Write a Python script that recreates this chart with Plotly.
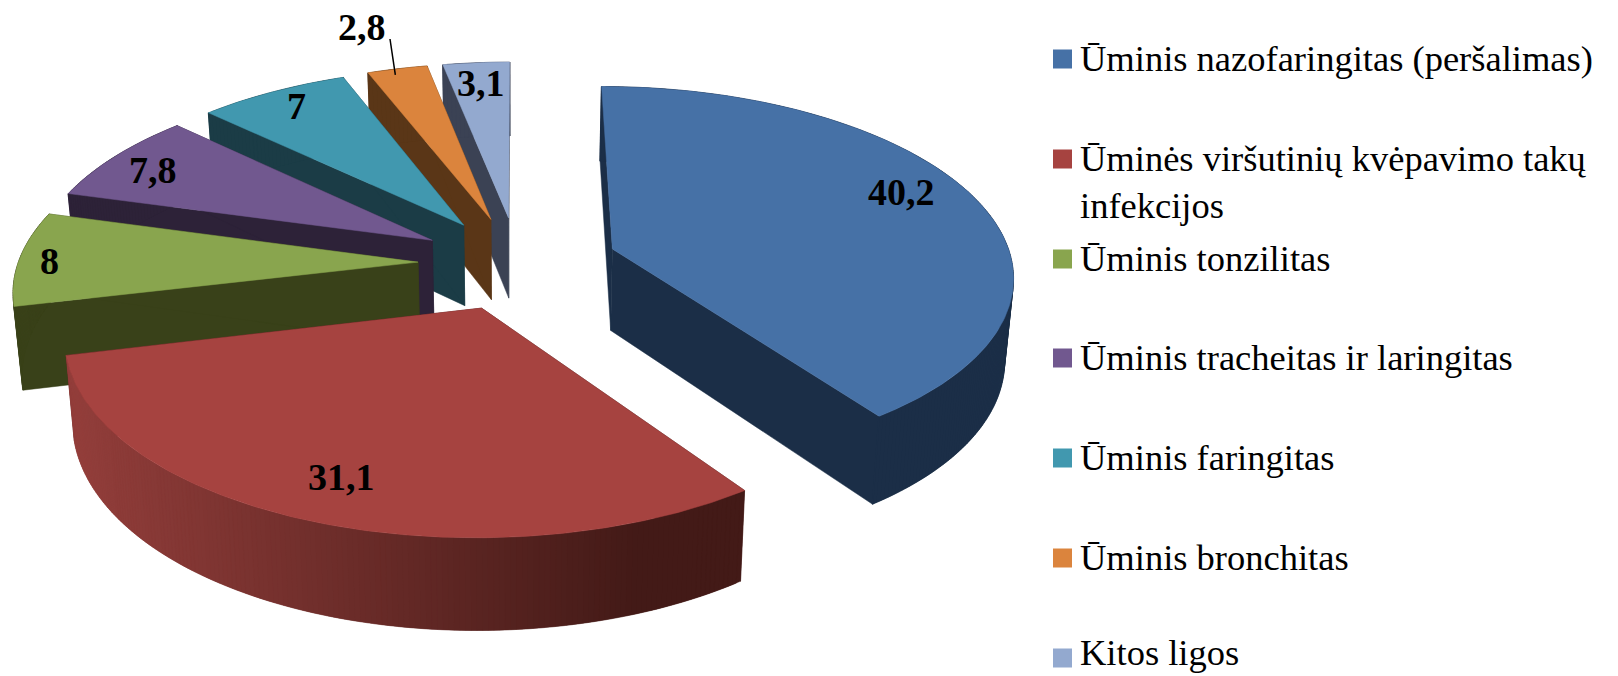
import math
import plotly.graph_objects as go

categories = ["Ūminis nazofaringitas (peršalimas)", "Ūminės viršutinių kvėpavimo takų<br>infekcijos",
              "Ūminis tonzilitas", "Ūminis tracheitas ir laringitas", "Ūminis faringitas",
              "Ūminis bronchitas", "Kitos ligos"]
values = [40.2, 31.1, 8, 7.8, 7, 2.8, 3.1]
value_labels = ["40,2", "31,1", "8", "7,8", "7", "2,8", "3,1"]

top_colors = ["#4671A6", "#A64340", "#89A54E", "#71588F", "#4198AF", "#DB843D", "#93A9CF"]
side_colors = ["#1B2E47", "#431B18", "#394119", "#2D2238", "#1B3C46", "#5A3617", "#3B4254"]
paint_order = [6, 5, 4, 3, 2, 1, 0]

# projection parameters of the tilted pie
CX, CY, RX, RY, PERSP, HEIGHT, SHRINK, EXPLODE = 518, 263, 400, 187, 0.13, 82, 0.982, 0.25
SERIF = "Liberation Serif"
LABEL_XY = [(901, 192), (341, 477), (49, 261), (153, 170), (296, 106), (362, 27), (481, 83)]
LEGEND_Y = [59, 159, 259, 358, 458, 558, 658]


def project(gx, gy, bottom=False):
    s = 1 / (1 - PERSP * gy)
    x = RX * gx * s
    y = CY + RY * gy * s
    if bottom:
        return CX + x * SHRINK, y + HEIGHT * s ** 0.7
    return CX + x, y


def hex_mix(c1, c2, t):
    a = [int(c1[i:i + 2], 16) for i in (1, 3, 5)]
    b = [int(c2[i:i + 2], 16) for i in (1, 3, 5)]
    return "#%02x%02x%02x" % tuple(round(p + (q - p) * t) for p, q in zip(a, b))


fig = go.Figure()


def poly(points, color, width=0.5):
    xs = [p[0] for p in points] + [points[0][0]]
    ys = [p[1] for p in points] + [points[0][1]]
    fig.add_trace(go.Scatter(x=xs, y=ys, mode="lines", fill="toself", fillcolor=color,
                             line=dict(color=color, width=width), hoverinfo="skip", showlegend=False))


total = sum(values)
bounds = [0.0]
for v in values:
    bounds.append(bounds[-1] + v / total * 2 * math.pi)

for i in paint_order:
    t0, t1 = bounds[i], bounds[i + 1]
    mid = (t0 + t1) / 2
    ox, oy = EXPLODE * math.sin(mid), -EXPLODE * math.cos(mid)
    rim = lambda t: (ox + math.sin(t), oy - math.cos(t))
    n = max(6, int((t1 - t0) / 0.012))
    angles = [t0 + (t1 - t0) * k / n for k in range(n + 1)]
    # cut walls
    for t in (t0, t1):
        g = rim(t)
        poly([project(ox, oy), project(*g), project(*g, True), project(ox, oy, True)], side_colors[i])
    # outer wall, one band after another, each overlapping the next
    for k in range(n):
        a, b = angles[k], angles[min(n, k + 2)]
        ga, gb = rim(a), rim(b)
        if i == 1:
            xm = project(*rim(angles[k]))[0]
            col = hex_mix("#933E3B", "#431A17", min(1.0, max(0.0, (xm - 70) / 570)))
        else:
            col = side_colors[i]
        poly([project(*ga), project(*gb), project(*gb, True), project(*ga, True)], col, 0.3)
    if i != 1:
        for t in (t0, t1):
            g = rim(t)
            p, q = project(*g), project(*g, True)
            fig.add_trace(go.Scatter(x=[p[0], q[0]], y=[p[1], q[1]], mode="lines",
                                     line=dict(color=side_colors[i], width=1.5),
                                     hoverinfo="skip", showlegend=False))
    # top surface
    poly([project(ox, oy)] + [project(*rim(t)) for t in angles], top_colors[i])

# leader line of the 2,8 label
mid = (bounds[5] + bounds[6]) / 2
lx = EXPLODE * math.sin(mid) + math.sin(mid)
ly = -EXPLODE * math.cos(mid) - math.cos(mid)
ex, ey = project(lx, ly)
fig.add_trace(go.Scatter(x=[390, ex - 2], y=[39, ey + 6], mode="lines", line=dict(color="black", width=1.5),
                         hoverinfo="skip", showlegend=False))

for text, (x, y) in zip(value_labels, LABEL_XY):
    fig.add_annotation(x=x, y=y, text=f"<b>{text}</b>", showarrow=False, xanchor="center", yanchor="middle",
                       font=dict(family=SERIF, size=38, color="black"))

for name, color, y in zip(categories, top_colors, LEGEND_Y):
    fig.add_shape(type="rect", x0=1053, x1=1072, y0=y - 9.5, y1=y + 9.5, fillcolor=color, line_width=0)
    fig.add_annotation(x=1078, y=min(y - 23, 630), text=name, showarrow=False, xanchor="left", yanchor="top",
                       align="left", font=dict(family=SERIF, size=36.5, color="black"))

fig.update_layout(width=1618, height=676, margin=dict(l=0, r=0, t=0, b=0), paper_bgcolor="white",
                  plot_bgcolor="white", showlegend=False,
                  xaxis=dict(range=[0, 1618], visible=False, fixedrange=True),
                  yaxis=dict(range=[676, 0], visible=False, fixedrange=True))
fig.write_html("out.html", post_script="document.body.style.margin='0';document.body.style.overflow='hidden';",
               config={"displayModeBar": False})
